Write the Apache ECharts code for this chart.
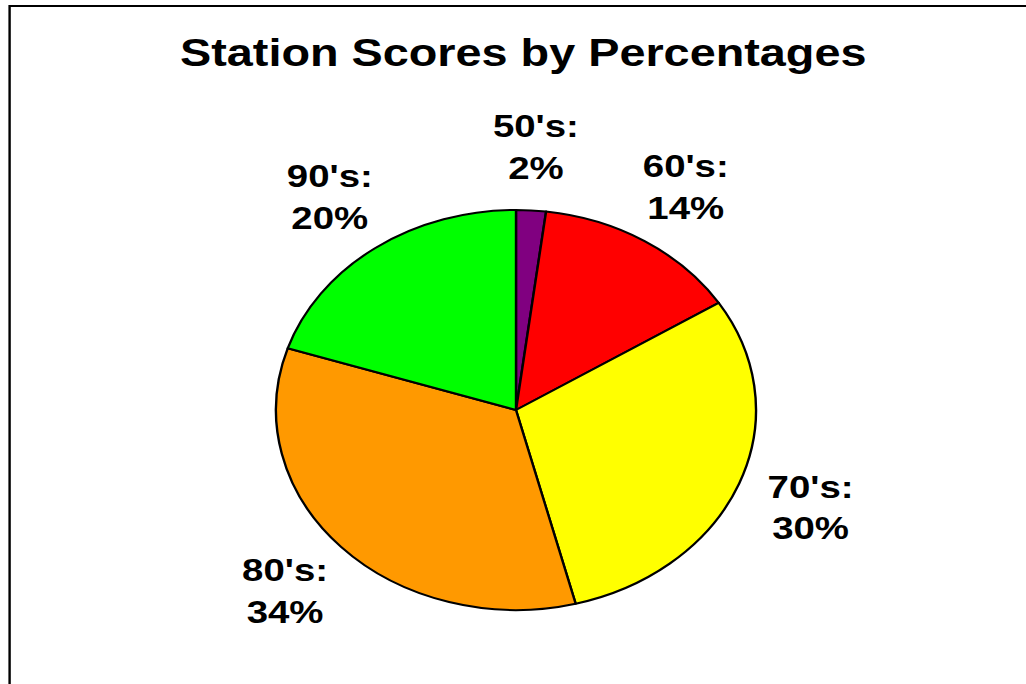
<!DOCTYPE html>
<html>
<head>
<meta charset="utf-8">
<title>Station Scores by Percentages</title>
<script src="https://cdn.jsdelivr.net/npm/echarts@6.0.0/dist/echarts.min.js"></script>
<style>
  html, body { margin: 0; padding: 0; background: #fff; overflow: hidden; }
  /* the original chart is stretched sideways, so the pie reads as an ellipse */
  #main { width: 855px; height: 684px; transform: scaleX(1.2); transform-origin: 0 0; }
</style>
</head>
<body>
<div id="main"></div>
<script>
const categories = ["50's", "60's", "70's", "80's", "90's"];
const percents = [2, 14, 30, 34, 20];
const sliceColors = ['#800080', '#ff0000', '#ffff00', '#ff9900', '#00ff00'];

const font = "'Liberation Sans', Arial, sans-serif";
const pieX = 430, pieY = 410, pieR = 200, labelR = 264;
const total = percents.reduce((a, b) => a + b, 0);

const chart = echarts.init(document.getElementById('main'), null, { renderer: 'svg' });

chart.setOption({
  animation: false,
  color: sliceColors,
  title: {
    text: 'Station Scores by Percentages',
    left: 145,
    top: 28,
    textStyle: { fontFamily: font, fontSize: 39, fontWeight: 'bold', color: '#000' }
  },
  graphic: [{
    type: 'rect',
    shape: { x: 8, y: 6, width: 900, height: 700 },
    style: { fill: 'none', stroke: '#000', lineWidth: 2 },
    silent: true
  }],
  series: [{
    type: 'pie',
    center: [pieX, pieY],
    radius: pieR,
    startAngle: 90,
    clockwise: true,
    avoidLabelOverlap: false,
    emphasis: { disabled: true },
    itemStyle: { borderColor: '#000', borderWidth: 2 },
    label: {
      show: true,
      position: 'outside',
      formatter: '{b}:\n{c}%',
      fontFamily: font,
      fontSize: 32,
      fontWeight: 'bold',
      lineHeight: 42,
      color: '#000'
    },
    labelLine: { show: false },
    // put each label centred just outside its slice's middle
    labelLayout: function (params) {
      const i = params.dataIndex;
      let before = 0;
      for (let k = 0; k < i; k++) before += percents[k];
      const mid = (before + percents[i] / 2) / total * Math.PI * 2;
      return {
        x: pieX + labelR * Math.sin(mid),
        y: pieY - labelR * Math.cos(mid),
        align: 'center',
        verticalAlign: 'middle'
      };
    },
    data: categories.map((c, i) => ({ name: c, value: percents[i] }))
  }]
});
</script>
</body>
</html>
